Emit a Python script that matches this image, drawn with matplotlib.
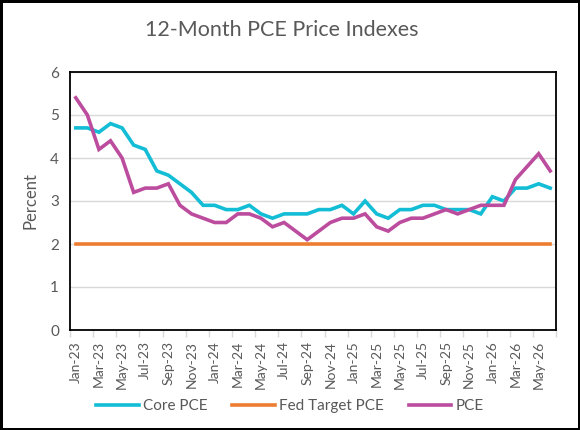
import matplotlib
matplotlib.use('Agg')
import matplotlib.pyplot as plt
import numpy as np

# monthly data, Jan-23 .. Jun-26
months = ['Jan-23', 'Feb-23', 'Mar-23', 'Apr-23', 'May-23', 'Jun-23', 'Jul-23', 'Aug-23',
          'Sep-23', 'Oct-23', 'Nov-23', 'Dec-23', 'Jan-24', 'Feb-24', 'Mar-24', 'Apr-24',
          'May-24', 'Jun-24', 'Jul-24', 'Aug-24', 'Sep-24', 'Oct-24', 'Nov-24', 'Dec-24',
          'Jan-25', 'Feb-25', 'Mar-25', 'Apr-25', 'May-25', 'Jun-25', 'Jul-25', 'Aug-25',
          'Sep-25', 'Oct-25', 'Nov-25', 'Dec-25', 'Jan-26', 'Feb-26', 'Mar-26', 'Apr-26',
          'May-26', 'Jun-26']

core_pce = [4.7, 4.7, 4.6, 4.8, 4.7, 4.3, 4.2, 3.7, 3.6, 3.4, 3.2, 2.9, 2.9, 2.8,
            2.8, 2.9, 2.7, 2.6, 2.7, 2.7, 2.7, 2.8, 2.8, 2.9, 2.7, 3.0, 2.7, 2.6,
            2.8, 2.8, 2.9, 2.9, 2.8, 2.8, 2.8, 2.7, 3.1, 3.0, 3.3, 3.3, 3.4, 3.3]

pce = [5.4, 5.0, 4.2, 4.4, 4.0, 3.2, 3.3, 3.3, 3.4, 2.9, 2.7, 2.6, 2.5, 2.5,
       2.7, 2.7, 2.6, 2.4, 2.5, 2.3, 2.1, 2.3, 2.5, 2.6, 2.6, 2.7, 2.4, 2.3,
       2.5, 2.6, 2.6, 2.7, 2.8, 2.7, 2.8, 2.9, 2.9, 2.9, 3.5, 3.8, 4.1, 3.7]

fed_target = [2.0] * len(months)

COLORS = {
    'core': '#14BDD6',
    'fed': '#ED7D31',
    'pce': '#BC4C9E',
    'text': '#595959',
    'grid': '#D9D9D9',
}

plt.rcParams['font.family'] = ['Lato', 'DejaVu Sans']

fig = plt.figure(figsize=(5.8, 4.3), dpi=100)
fig.patch.set_edgecolor('black')
fig.patch.set_linewidth(2.5)
ax = fig.add_axes([70 / 580, 100 / 430, 486 / 580, 258 / 430])

x = np.arange(len(months))
lw = 2.6
ax.plot(x, core_pce, color=COLORS['core'], linewidth=lw, label='Core PCE', solid_joinstyle='miter')
ax.plot(x, fed_target, color=COLORS['fed'], linewidth=lw, label='Fed Target PCE')
ax.plot(x, pce, color=COLORS['pce'], linewidth=lw, label='PCE', solid_joinstyle='miter')

ax.set_xlim(-0.5, len(months) - 0.5)
ax.set_ylim(0, 6)
ax.set_yticks(range(0, 7))
ax.yaxis.grid(True, color=COLORS['grid'], linewidth=1)
ax.set_axisbelow(True)
ax.tick_params(axis='y', length=0, labelsize=11, labelcolor=COLORS['text'], pad=8)

# tick marks between categories, labels on every second month
ax.set_xticks(np.arange(-0.5, len(months), 2))
ax.set_xticklabels([])
ax.tick_params(axis='x', which='major', length=5, color=COLORS['grid'], width=1)
ax.set_xticks(x[::2], minor=True)
ax.set_xticklabels(months[::2], minor=True, rotation=90)
ax.tick_params(axis='x', which='minor', length=0, labelsize=10,
               labelcolor=COLORS['text'], pad=8)

for s in ax.spines.values():
    s.set_color('black')
    s.set_linewidth(1.3)

ax.set_ylabel('Percent', fontsize=12, color=COLORS['text'], labelpad=8)

fig.text(282 / 580, 1 - 30 / 430, '12-Month PCE Price Indexes', ha='center', va='center',
         fontsize=15.5, color=COLORS['text'])

fig.legend(loc='center', bbox_to_anchor=(290 / 580, 24 / 430), ncol=3, frameon=False,
           fontsize=11, handlelength=2.8, handletextpad=0.3, columnspacing=1.6,
           labelcolor=COLORS['text'])

fig.savefig('out.png', dpi=100, edgecolor=fig.get_edgecolor())
